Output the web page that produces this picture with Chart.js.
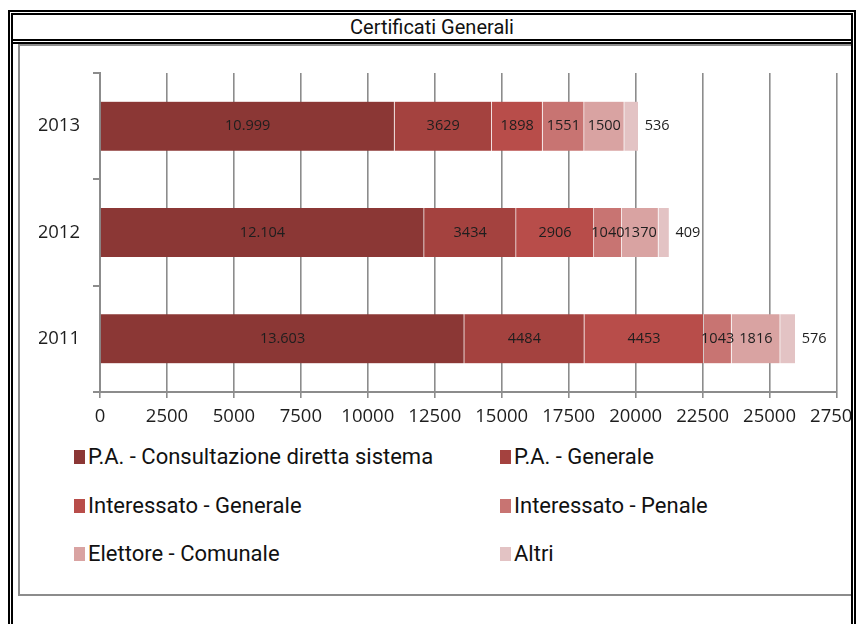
<!DOCTYPE html>
<html>
<head>
<meta charset="utf-8">
<script src="https://cdn.jsdelivr.net/npm/chart.js@4.4.1/dist/chart.umd.min.js"></script>
<style>
  body { margin: 0; width: 856px; height: 624px; overflow: hidden; background: #fff; position: relative; font-family: Roboto, sans-serif; color: #111; }
  .box { position: absolute; box-sizing: border-box; }
  #outer { left: 8px; top: 10px; width: 848px; height: 700px; border: 2px solid #000; }
  #inner { left: 11px; top: 13px; width: 842px; height: 700px; border: 2px solid #000; }
  #line1 { left: 11px; top: 39px; width: 842px; height: 2px; background: #000; }
  #line2 { left: 11px; top: 42px; width: 842px; height: 2px; background: #000; }
  #title { left: 13px; top: 15px; width: 838px; height: 24px; line-height: 24px; text-align: center; font-size: 20px; }
  #cell { left: 18px; top: 44px; width: 833px; height: 552px; border: 2px solid #8c8c8c; border-right: none; }
  #wrap { left: 20px; top: 46px; width: 831px; height: 394px; overflow: hidden; }
  #legend .item { position: absolute; height: 28px; line-height: 28px; font-size: 22px; white-space: nowrap; }
  #legend .sw { position: absolute; left: 0; top: 7px; width: 11px; height: 14px; }
  #legend .tx { position: absolute; left: 14px; top: 0; }
</style>
</head>
<body>
<div class="box" id="outer"></div>
<div class="box" id="inner"></div>
<div class="box" id="line1"></div>
<div class="box" id="line2"></div>
<div class="box" id="title">Certificati Generali</div>
<div class="box" id="cell"></div>
<div class="box" id="wrap"><canvas id="chart" width="880" height="394"></canvas></div>
<div id="legend"></div>
<script>
const years = ['2013', '2012', '2011'];
const seriesNames = [
  'P.A. - Consultazione diretta sistema',
  'P.A. - Generale',
  'Interessato - Generale',
  'Interessato - Penale',
  'Elettore - Comunale',
  'Altri'
];
const paConsultazione = [10999, 12104, 13603];
const paGenerale = [3629, 3434, 4484];
const interessatoGenerale = [1898, 2906, 4453];
const interessatoPenale = [1551, 1040, 1043];
const elettoreComunale = [1500, 1370, 1816];
const altri = [536, 409, 576];
const xTicks = [0, 2500, 5000, 7500, 10000, 12500, 15000, 17500, 20000, 22500, 25000, 27500];

const colors = ['#8b3735', '#a4423f', '#b84d4a', '#c87472', '#d9a3a2', '#e3c3c4'];
const values = [paConsultazione, paGenerale, interessatoGenerale, interessatoPenale, elettoreComunale, altri];

// 10999 -> "10.999", smaller numbers stay plain like in the original
function fmt(v) {
  return v >= 10000 ? String(v).replace(/(\d)(?=(\d{3})+$)/g, '$1.') : String(v);
}

const valueLabels = {
  id: 'valueLabels',
  afterDatasetsDraw(chart) {
    const ctx = chart.ctx;
    const last = chart.data.datasets.length - 1;
    ctx.save();
    ctx.font = '14.5px "Open Sans"';
    ctx.fillStyle = '#1e1e1e';
    ctx.textBaseline = 'middle';
    chart.data.datasets.forEach((ds, i) => {
      chart.getDatasetMeta(i).data.forEach((bar, j) => {
        if (i === last) {
          ctx.textAlign = 'left';
          ctx.fillText(fmt(ds.data[j]), bar.x + 6, bar.y);
        } else {
          ctx.textAlign = 'center';
          ctx.fillText(fmt(ds.data[j]), (bar.x + bar.base) / 2, bar.y);
        }
      });
    });
    ctx.restore();
  }
};

function buildLegend(chart) {
  const el = document.getElementById('legend');
  chart.data.datasets.forEach((ds, i) => {
    const item = document.createElement('div');
    item.className = 'item';
    item.style.left = (i % 2 === 0 ? 74 : 500) + 'px';
    item.style.top = (443 + Math.floor(i / 2) * 48.5) + 'px';
    item.innerHTML = '<span class="sw" style="background:' + ds.backgroundColor + '"></span><span class="tx"></span>';
    item.querySelector('.tx').textContent = ds.label;
    el.appendChild(item);
  });
}

function draw() {
  const chart = new Chart(document.getElementById('chart'), {
    type: 'bar',
    data: {
      labels: years,
      datasets: seriesNames.map((name, i) => ({
        label: name,
        data: values[i],
        backgroundColor: colors[i],
        borderColor: 'rgba(255,255,255,0.35)',
        borderWidth: { right: 1 },
        barThickness: 49
      }))
    },
    options: {
      indexAxis: 'y',
      responsive: false,
      animation: false,
      layout: { padding: { left: 19, top: 27, right: 63.5, bottom: 0 } },
      plugins: { legend: { display: false }, tooltip: { enabled: false } },
      scales: {
        x: {
          stacked: true,
          min: 0,
          max: 27500,
          afterBuildTicks: (s) => { s.ticks = xTicks.map(v => ({ value: v })); },
          afterFit: (s) => { s.height = 48; },
          grid: { color: '#8c8c8c', lineWidth: 1.6, tickLength: 6 },
          border: { color: '#8c8c8c', width: 2 },
          ticks: { padding: 8, color: '#1e1e1e', font: { family: 'Open Sans', size: 18.5 }, callback: v => String(v) }
        },
        y: {
          stacked: true,
          afterFit: (s) => { s.width = 61; },
          grid: { drawOnChartArea: false, color: '#8c8c8c', lineWidth: 2, tickLength: 7 },
          border: { color: '#8c8c8c', width: 2 },
          ticks: { padding: 13, color: '#1e1e1e', font: { family: 'Open Sans', size: 18.5 } }
        }
      }
    },
    plugins: [valueLabels]
  });
  buildLegend(chart);
}

document.fonts.load('18px "Open Sans"').then(draw, draw);
</script>
</body>
</html>
